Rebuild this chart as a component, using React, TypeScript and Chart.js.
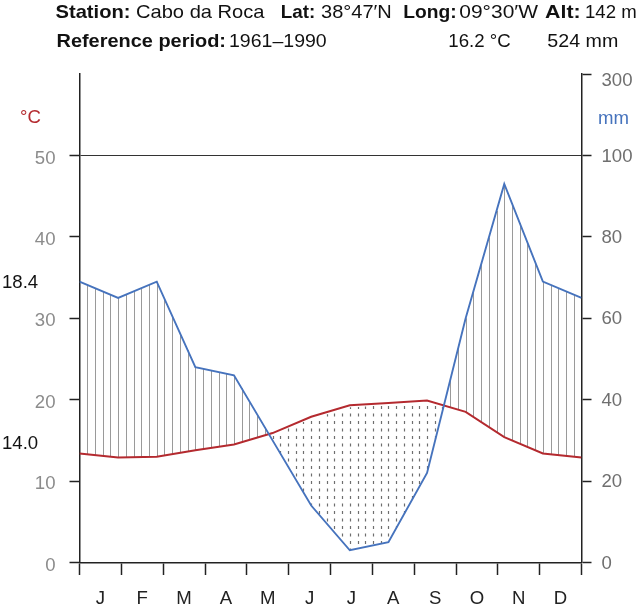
import React, { useEffect, useRef } from 'react';
import { Chart, registerables } from 'chart.js';

Chart.register(...registerables);

// ---- data ----
const months = ['J', 'F', 'M', 'A', 'M', 'J', 'J', 'A', 'S', 'O', 'N', 'D'];
const temperature = [12.9, 13.0, 13.8, 14.5, 15.9, 17.9, 19.3, 19.6, 19.9, 18.5, 15.4, 13.4]; // °C
const precipitation = [65, 69, 48, 46, 30, 14, 3, 5, 22, 60, 93, 69]; // mm
const tempTicks = [0, 10, 20, 30, 40, 50];
const precipTicks = [0, 20, 40, 60, 80, 100, 120];
const precipTickLabels = ['0', '20', '40', '60', '80', '100', '300'];

const stationLabel = 'Station:';
const stationName = 'Cabo da Roca';
const latLabel = 'Lat:';
const latValue = '38°47′N';
const longLabel = 'Long:';
const longValue = '09°30′W';
const altLabel = 'Alt:';
const altValue = '142 m';
const periodLabel = 'Reference period:';
const periodValue = '1961–1990';
const meanTemp = '16.2 °C';
const totalPrecip = '524 mm';
const maxWarmest = '18.4';
const minColdest = '14.0';

// series wrapped like a Walter–Lieth diagram: [Dec, Jan..Dec, Jan]
const wrap = (a: number[]) => [a[a.length - 1], ...a, a[0]];
const tempWrapped = wrap(temperature);
const precWrapped = wrap(precipitation);

const FAMILY = '"Liberation Sans", Arial, Helvetica, sans-serif';
const FS = 18.6;
const RED = '#b42a2f';
const BLUE = '#4673bd';

function fitText(ctx: CanvasRenderingContext2D, text: string, x: number, y: number, w: number, bold: boolean, color: string) {
  ctx.save();
  ctx.font = `${bold ? 'bold ' : ''}${FS}px ${FAMILY}`;
  ctx.fillStyle = color;
  ctx.textBaseline = 'alphabetic';
  ctx.textAlign = 'left';
  const m = ctx.measureText(text).width;
  let s = w / m;
  if (s > 1.15) s = 1.15;
  if (s < 0.85) s = 0.85;
  ctx.translate(x, y);
  ctx.scale(s, 1);
  ctx.fillText(text, 0, 0);
  ctx.restore();
}

const overlay = {
  id: 'wlOverlay',
  beforeDatasetsDraw(chart: any) {
    const { ctx, chartArea } = chart;
    const xs = chart.scales.xd;
    const ys = chart.scales.y;
    const n = tempWrapped.length - 1;
    const steps = n * 5;
    ctx.save();
    ctx.beginPath();
    ctx.rect(chartArea.left, chartArea.top, chartArea.right - chartArea.left, chartArea.bottom - chartArea.top);
    ctx.clip();
    ctx.lineWidth = 1;
    for (let k = 1; k < steps; k++) {
      const xv = k / 5;
      const i = Math.floor(xv + 1e-9);
      const f = xv - i;
      const t = tempWrapped[i] + (tempWrapped[i + 1] - tempWrapped[i]) * f;
      const p = (precWrapped[i] + (precWrapped[i + 1] - precWrapped[i]) * f) / 2;
      const px = Math.round(xs.getPixelForValue(xv)) + 0.5;
      const ty = ys.getPixelForValue(t);
      const py = ys.getPixelForValue(p);
      ctx.beginPath();
      if (p > t) {
        ctx.setLineDash([]);
        ctx.lineWidth = 1;
        ctx.strokeStyle = '#9a9a9a';
        ctx.moveTo(px, ty);
        ctx.lineTo(px, py);
      } else {
        ctx.setLineDash([3, 4.5]);
        ctx.lineDashOffset = ty - chartArea.top;
        ctx.lineWidth = 1.2;
        ctx.strokeStyle = '#6e6e6e';
        ctx.moveTo(px, ty + 2);
        ctx.lineTo(px, py);
      }
      ctx.stroke();
    }
    ctx.restore();
  },
  afterDraw(chart: any) {
    const { ctx } = chart;
    const y2 = chart.scales.y2;
    // header
    fitText(ctx, stationLabel, 55.5, 17.5, 75, true, '#111');
    fitText(ctx, stationName, 136, 17.5, 128.5, false, '#111');
    fitText(ctx, latLabel, 280.7, 17.5, 34.5, true, '#111');
    fitText(ctx, latValue, 321, 17.5, 70.7, false, '#111');
    fitText(ctx, longLabel, 403.3, 17.5, 53.4, true, '#111');
    fitText(ctx, longValue, 459.3, 17.5, 78.7, false, '#111');
    fitText(ctx, altLabel, 545, 17.5, 36.7, true, '#111');
    fitText(ctx, altValue, 585, 17.5, 51.7, false, '#111');
    fitText(ctx, periodLabel, 56.5, 47, 169.5, true, '#111');
    fitText(ctx, periodValue, 229, 47, 97.7, false, '#111');
    fitText(ctx, meanTemp, 448.3, 47, 62.4, false, '#111');
    fitText(ctx, totalPrecip, 547.3, 47, 71, false, '#111');

    ctx.save();
    ctx.font = `${FS}px ${FAMILY}`;
    ctx.textBaseline = 'middle';
    ctx.textAlign = 'left';
    ctx.fillStyle = RED;
    ctx.fillText('°C', 20, 118);
    ctx.fillStyle = BLUE;
    ctx.textBaseline = 'alphabetic';
    ctx.fillText('mm', 598, 123.5);
    ctx.fillStyle = '#111';
    ctx.textBaseline = 'middle';
    ctx.fillText(maxWarmest, 2, 283);
    ctx.fillText(minColdest, 2, 444);
    ctx.fillStyle = '#6f6f6f';
    ctx.fillText(precipTickLabels[precipTickLabels.length - 1], 601.5, y2.getPixelForValue(precipTicks[precipTicks.length - 1]) + 7);
    ctx.restore();
  },
};

export default function App() {
  const ref = useRef<HTMLCanvasElement | null>(null);
  useEffect(() => {
    if (!ref.current) return;
    const font = { family: FAMILY, size: FS };
    const chart = new Chart(ref.current, {
      type: 'line',
      data: {
        labels: months,
        datasets: [
          {
            label: 'Precipitation',
            data: precWrapped.map((v, i) => ({ x: i, y: v })),
            xAxisID: 'xd',
            yAxisID: 'y2',
            borderColor: BLUE,
            borderWidth: 1.9,
            pointRadius: 0,
            fill: false,
            tension: 0,
          },
          {
            label: 'Temperature',
            data: tempWrapped.map((v, i) => ({ x: i, y: v })),
            xAxisID: 'xd',
            yAxisID: 'y',
            borderColor: RED,
            borderWidth: 2,
            pointRadius: 0,
            fill: false,
            tension: 0,
          },
        ],
      },
      options: {
        responsive: false,
        animation: false,
        layout: { padding: { top: 74, left: 0, right: 0, bottom: 0 } },
        plugins: { legend: { display: false }, tooltip: { enabled: false } },
        scales: {
          x: {
            type: 'category',
            position: 'bottom',
            offset: true,
            grid: {
              offset: true,
              drawOnChartArea: false,
              drawTicks: true,
              tickLength: 12.5,
              color: '#222',
              tickColor: '#222',
              tickWidth: 1.5,
            },
            border: { display: true, color: '#222', width: 1.5 },
            ticks: { color: '#222', font, padding: 13, maxRotation: 0, autoSkip: false },
            afterFit: (s: any) => { s.height = 44.5; },
          },
          xd: { type: 'linear', min: 0, max: tempWrapped.length - 1, display: false },
          y: {
            type: 'linear',
            position: 'left',
            min: 0,
            max: 60,
            afterBuildTicks: (s: any) => { s.ticks = tempTicks.map((v) => ({ value: v })); },
            grid: {
              drawOnChartArea: true,
              color: (c: any) => (c.tick && c.tick.value === 50 ? '#333' : 'rgba(0,0,0,0)'),
              lineWidth: 1,
              tickColor: '#222',
              tickWidth: 1.5,
              tickLength: 10,
            },
            border: { display: true, color: '#222', width: 1.5 },
            ticks: { color: '#8c8c8c', font, padding: 14, labelOffset: 3 },
            afterFit: (s: any) => { s.width = 79.5; },
          },
          y2: {
            type: 'linear',
            position: 'right',
            min: 0,
            max: 120,
            afterBuildTicks: (s: any) => { s.ticks = precipTicks.map((v) => ({ value: v })); },
            grid: {
              drawOnChartArea: false,
              color: '#222',
              tickColor: '#222',
              tickWidth: 1.5,
              tickLength: 10,
            },
            border: { display: true, color: '#222', width: 1.5 },
            ticks: {
              color: '#6f6f6f',
              font,
              padding: 10,
              labelOffset: 1,
              callback: (_v: any, i: number) => (i === precipTicks.length - 1 ? '' : precipTickLabels[i]),
            },
            afterFit: (s: any) => { s.width = 58.5; },
          },
        },
      },
      plugins: [overlay],
    } as any);
    return () => chart.destroy();
  }, []);
  return (
    <div style={{ position: 'absolute', left: 0, top: 0, width: 640, height: 607, background: '#fff' }}>
      <canvas ref={ref} width={640} height={607} style={{ display: 'block', width: 640, height: 607 }} />
    </div>
  );
}
